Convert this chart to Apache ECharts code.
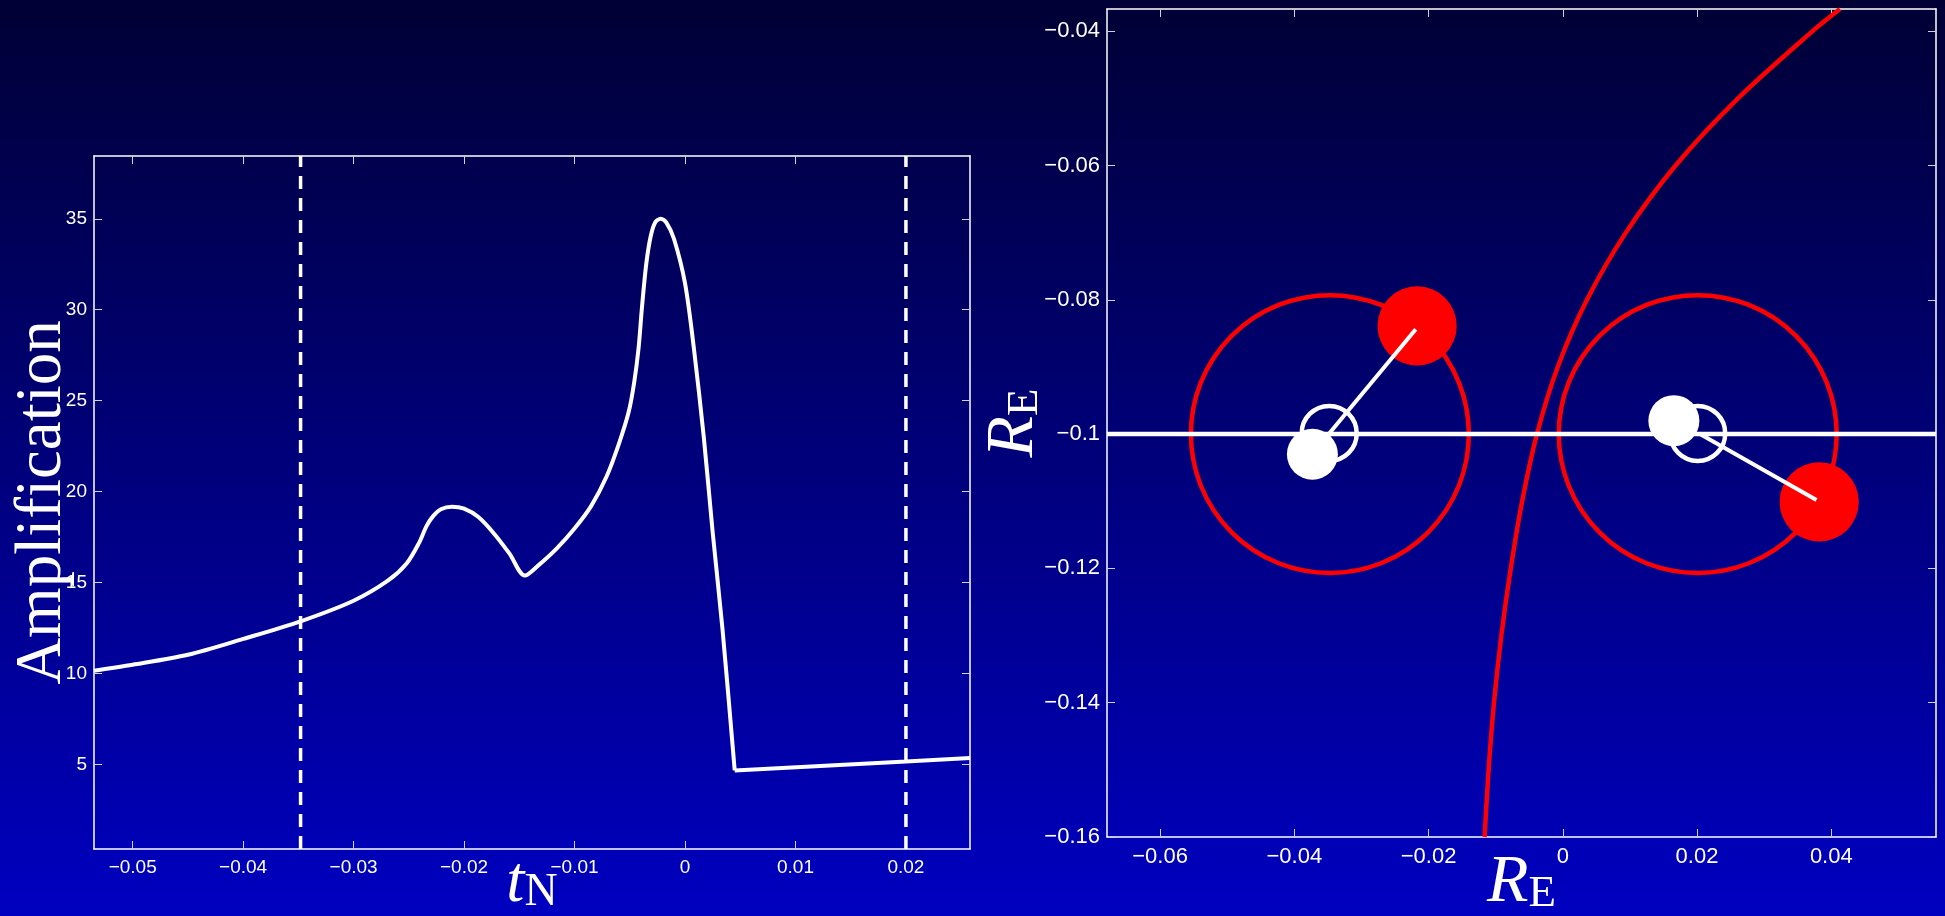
<!DOCTYPE html>
<html>
<head>
<meta charset="utf-8" />
<title>Amplification</title>
<script type="text/javascript" src="https://cdn.jsdelivr.net/npm/echarts@6/dist/echarts.min.js"></script>
<style>
  html, body { margin: 0; padding: 0; }
  #chart { width: 1945px; height: 916px; }
</style>
</head>
<body>
<div id="chart"></div>
<script type="text/javascript">
// ---- left panel: light curve ----
var tN  = [-0.0535, -0.0500, -0.0450, -0.0400, -0.0348, -0.0300, -0.0269, -0.0252, -0.0241, -0.0234,
           -0.0228, -0.0221, -0.0211, -0.0200, -0.0187, -0.0173, -0.0159, -0.0145, -0.0133, -0.0116,
           -0.0100, -0.0085, -0.0071, -0.0060, -0.0051, -0.0046, -0.0042, -0.0039, -0.0035, -0.0031,
           -0.0027, -0.0022, -0.0017, -0.0010,  0.0000,  0.0008,  0.0017,  0.0025,  0.0034,  0.0045,
            0.0200,  0.0258];
var amp = [10.15, 10.48, 11.03, 11.90, 12.87, 14.00, 15.10, 16.05, 17.15, 18.10,
           18.65, 19.03, 19.17, 19.06, 18.60, 17.70, 16.60, 15.38, 15.93, 16.88,
           17.97, 19.20, 20.83, 22.60, 24.37, 26.00, 27.90, 30.10, 32.55, 34.05,
           34.80, 35.00, 34.80, 33.90, 31.46, 27.90, 23.00, 17.80, 12.40, 4.67,
           5.16, 5.35];
var kinkIndex = 39;   // t = 0.0045, where the curve drops to its floor
var dashT = [-0.0348, 0.02];
var leftXRange = [-0.0535, 0.0258];
var leftYRange = [0.35, 38.45];
var leftXTicks = [-0.05, -0.04, -0.03, -0.02, -0.01, 0, 0.01, 0.02];
var leftYTicks = [5, 10, 15, 20, 25, 30, 35];

// ---- right panel: lens plane ----
var rightXRange = [-0.0679, 0.0556];
var rightYRange = [-0.16, -0.0367];
var rightXTicks = [-0.06, -0.04, -0.02, 0, 0.02, 0.04];
var rightYTicks = [-0.16, -0.14, -0.12, -0.1, -0.08, -0.06, -0.04];
var causticX = [-0.01165, -0.01105, -0.01025, -0.00915, -0.00775, -0.00605, -0.00385, -0.00075, 0.00360, 0.00940,
                 0.01680,  0.02610,  0.03720,  0.04128];
var causticY = [-0.16, -0.15, -0.14, -0.13, -0.12, -0.11, -0.10, -0.09, -0.08, -0.07,
                -0.06, -0.05, -0.04, -0.0367];
var lensY = -0.1;
// [x, y, radius] in data units
var einsteinRings = [[-0.0347, -0.1, 0.0207], [0.0201, -0.1, 0.0207]];
var sourceRings   = [[-0.0348, -0.0999, 0.0041], [0.0201, -0.0999, 0.0041]];
var imagesPlus    = [[-0.0217, -0.0839, 0.0059], [0.0382, -0.1101, 0.0059]];
var imagesMinus   = [[-0.0373, -0.1030, 0.0038], [0.01655, -0.0980, 0.0038]];
var spokes = [
  [[-0.0348, -0.0999], [-0.0219, -0.0844]],
  [[0.0203, -0.0999], [0.0378, -0.1098]]
];

function zip(a, b) {
  var out = [];
  for (var i = 0; i < a.length; i++) out.push([a[i], b[i]]);
  return out;
}
function fmt(v) {
  if (v === 0) return '0';
  return (v < 0 ? '\u2212' : '') + String(Math.abs(v));
}

var white = '#ffffff';
var tickCol = '#d0d0e0';
var sans = "'Liberation Sans', Arial, sans-serif";
var serif = "'Liberation Serif', 'Times New Roman', serif";

function boxAxis(opt, ticks) {
  // a mirrored axis: only line and inward ticks
  return Object.assign({
    type: 'value',
    axisLine: { show: true, onZero: false, lineStyle: { color: white, width: 1.5 } },
    axisTick: { show: true, inside: true, length: 8, customValues: ticks, lineStyle: { color: tickCol, width: 1 } },
    axisLabel: { show: false },
    splitLine: { show: false }
  }, opt);
}

function mainAxis(opt, ticks, fontSize, margin) {
  return Object.assign({
    type: 'value',
    nameMoveOverlap: false,
    axisLine: { show: true, onZero: false, lineStyle: { color: white, width: 1.5 } },
    axisTick: { show: true, inside: true, length: 8, customValues: ticks, lineStyle: { color: tickCol, width: 1 } },
    axisLabel: { show: true, customValues: ticks, color: white, fontFamily: sans, fontSize: fontSize, margin: margin, formatter: fmt },
    splitLine: { show: false }
  }, opt);
}

function circleSeries(data, fill, stroke, lineWidth, z) {
  return {
    type: 'custom',
    xAxisIndex: 2, yAxisIndex: 2,
    coordinateSystem: 'cartesian2d',
    z: z,
    silent: true,
    data: data,
    encode: { x: 0, y: 1 },
    renderItem: function (params, api) {
      var c = api.coord([api.value(0), api.value(1)]);
      var r = api.size([api.value(2), 0])[0];
      return {
        type: 'circle',
        shape: { cx: c[0], cy: c[1], r: r },
        style: { fill: fill, stroke: stroke, lineWidth: lineWidth }
      };
    }
  };
}

function subLabel(main, sub, size, subSize, subLh) {
  return {
    name: '{t|' + main + '}{s|' + sub + '}',
    nameTextStyle: {
      rich: {
        t: { fontFamily: serif, fontStyle: 'italic', fontSize: size, color: white, lineHeight: size },
        s: { fontFamily: serif, fontSize: subSize, color: white, lineHeight: subLh, verticalAlign: 'bottom' }
      }
    }
  };
}

var chart = echarts.init(document.getElementById('chart'));

var curve = zip(tN, amp);
var series = [
  {
    type: 'line',
    xAxisIndex: 0, yAxisIndex: 0,
    data: curve.slice(0, kinkIndex + 1),
    showSymbol: false,
    smooth: 0.3,
    lineStyle: { color: white, width: 4 },
    z: 5
  },
  {
    type: 'line',
    xAxisIndex: 0, yAxisIndex: 0,
    data: curve.slice(kinkIndex),
    showSymbol: false,
    lineStyle: { color: white, width: 4 },
    z: 5
  }
];
dashT.forEach(function (t) {
  series.push({
    type: 'line',
    xAxisIndex: 0, yAxisIndex: 0,
    data: [[t, leftYRange[0]], [t, leftYRange[1]]],
    showSymbol: false,
    lineStyle: { color: white, width: 3.5, type: [13, 9] },
    z: 4
  });
});
series.push(
  circleSeries(einsteinRings, 'none', '#ff0000', 4.5, 3),
  {
    type: 'line',
    xAxisIndex: 2, yAxisIndex: 2,
    data: zip(causticX, causticY),
    showSymbol: false,
    smooth: 0.3,
    lineStyle: { color: '#ff0000', width: 4.5 },
    z: 4
  },
  {
    type: 'line',
    xAxisIndex: 2, yAxisIndex: 2,
    data: [[rightXRange[0], lensY], [rightXRange[1], lensY]],
    showSymbol: false,
    lineStyle: { color: white, width: 4.5 },
    z: 5
  },
  circleSeries(imagesPlus, '#ff0000', 'none', 0, 6),
  circleSeries(sourceRings, 'none', white, 4.5, 7)
);
spokes.forEach(function (s) {
  series.push({
    type: 'line',
    xAxisIndex: 2, yAxisIndex: 2,
    data: s,
    showSymbol: false,
    lineStyle: { color: white, width: 4 },
    z: 8
  });
});
series.push(circleSeries(imagesMinus, white, 'none', 0, 9));

chart.setOption({
  backgroundColor: {
    type: 'linear', x: 0, y: 0, x2: 0, y2: 1,
    colorStops: [{ offset: 0, color: '#000035' }, { offset: 1, color: '#0000c0' }]
  },
  animation: false,
  grid: [
    { left: 94, right: 975, top: 156, bottom: 67, outerBoundsMode: 'none', containLabel: false },
    { left: 1107, right: 9, top: 9, bottom: 79, outerBoundsMode: 'none', containLabel: false }
  ],
  xAxis: [
    mainAxis(Object.assign({
      gridIndex: 0, position: 'bottom', min: leftXRange[0], max: leftXRange[1],
      nameLocation: 'middle', nameGap: 2
    }, subLabel('t', 'N', 65, 46, 33)), leftXTicks, 19, 9),
    boxAxis({ gridIndex: 0, position: 'top', min: leftXRange[0], max: leftXRange[1] }, leftXTicks),
    mainAxis(Object.assign({
      gridIndex: 1, position: 'bottom', min: rightXRange[0], max: rightXRange[1],
      nameLocation: 'middle', nameGap: 12
    }, subLabel('R', 'E', 68, 45, 35)), rightXTicks, 22, 9),
    boxAxis({ gridIndex: 1, position: 'top', min: rightXRange[0], max: rightXRange[1] }, rightXTicks)
  ],
  yAxis: [
    mainAxis({
      gridIndex: 0, position: 'left', min: leftYRange[0], max: leftYRange[1],
      name: 'Amplification', nameLocation: 'middle', nameGap: 19, nameRotate: 90,
      nameTextStyle: { fontFamily: serif, fontSize: 65, color: white }
    }, leftYTicks, 19, 7),
    boxAxis({ gridIndex: 0, position: 'right', min: leftYRange[0], max: leftYRange[1] }, leftYTicks),
    mainAxis(Object.assign({
      gridIndex: 1, position: 'left', min: rightYRange[0], max: rightYRange[1],
      nameLocation: 'middle', nameGap: 59, nameRotate: 90
    }, subLabel('R', 'E', 68, 45, 35)), rightYTicks, 22, 7),
    boxAxis({ gridIndex: 1, position: 'right', min: rightYRange[0], max: rightYRange[1] }, rightYTicks)
  ],
  series: series
});
</script>
</body>
</html>
